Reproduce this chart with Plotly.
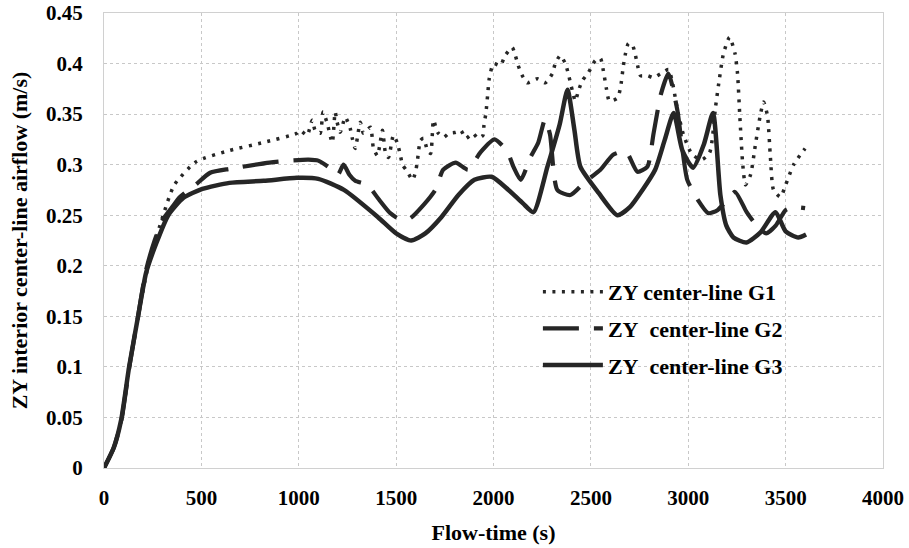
import plotly.graph_objects as go

# ---------------- data ----------------
g1_t = [0, 50, 90, 130, 175, 227, 304, 361, 474, 644, 820, 990,
        1007, 1043, 1069, 1084, 1110, 1125, 1146, 1172, 1187, 1197, 1213, 1239, 1264, 1275, 1290,
        1316, 1332, 1368, 1383, 1404, 1430, 1445, 1461, 1486, 1507, 1522, 1533, 1558, 1584, 1600,
        1610, 1625, 1641, 1661, 1677, 1692, 1713, 1744, 1770, 1806, 1832, 1858, 1894, 1920, 1946,
        1951, 1961, 1971, 1978, 2000, 2035, 2060, 2096, 2112, 2127, 2148, 2173, 2225, 2266, 2302,
        2317, 2343, 2369, 2384, 2405, 2420, 2436, 2456, 2487, 2523, 2549, 2564, 2580, 2595, 2637,
        2652, 2667, 2678, 2693, 2714, 2729, 2740, 2755, 2791, 2822, 2858, 2899, 2920, 2945, 2975,
        3020, 3070, 3110, 3140, 3160, 3181, 3212, 3240, 3253, 3265, 3280, 3294, 3320, 3345, 3371,
        3387, 3407, 3422, 3438, 3474, 3500, 3541, 3600]
g1_v = [0, 0.02, 0.048, 0.1, 0.15, 0.2, 0.25, 0.28, 0.303, 0.314, 0.322, 0.331,
        0.334, 0.329, 0.344, 0.334, 0.331, 0.352, 0.341, 0.322, 0.352, 0.342, 0.332, 0.347, 0.336, 0.326, 0.316,
        0.342, 0.331, 0.337, 0.317, 0.309, 0.334, 0.312, 0.307, 0.329, 0.321, 0.309, 0.300, 0.293, 0.285, 0.293,
        0.305, 0.324, 0.326, 0.314, 0.311, 0.344, 0.332, 0.327, 0.331, 0.332, 0.334, 0.326, 0.331, 0.326, 0.329,
        0.339, 0.351, 0.371, 0.385, 0.400, 0.398, 0.408, 0.416, 0.408, 0.398, 0.388, 0.381, 0.385, 0.381, 0.390,
        0.400, 0.408, 0.400, 0.390, 0.373, 0.363, 0.373, 0.383, 0.391, 0.403, 0.405, 0.393, 0.375, 0.363, 0.366,
        0.376, 0.398, 0.410, 0.420, 0.418, 0.408, 0.398, 0.388, 0.388, 0.386, 0.390, 0.394, 0.380, 0.354, 0.330,
        0.310, 0.305, 0.312, 0.357, 0.385, 0.410, 0.426, 0.410, 0.390, 0.347, 0.300, 0.280, 0.290, 0.320, 0.350,
        0.362, 0.348, 0.307, 0.275, 0.268, 0.280, 0.300, 0.316]

g2_t = [0, 50, 90, 130, 175, 215, 260, 300, 350, 390, 470, 545, 650, 850, 950, 1050, 1100,
        1150, 1200, 1230, 1260, 1290, 1352, 1410, 1470, 1520, 1572, 1640, 1701, 1742, 1806, 1870,
        1932, 2005, 2071, 2102, 2140, 2189, 2230, 2265, 2290, 2328, 2395, 2470, 2549, 2616, 2680,
        2739, 2790, 2822, 2860, 2898, 2944, 2970, 2995, 3050, 3103, 3150, 3190, 3240, 3300, 3350,
        3400, 3450, 3500, 3541, 3600]
g2_v = [0, 0.02, 0.048, 0.1, 0.15, 0.195, 0.225, 0.245, 0.258, 0.268, 0.28, 0.292, 0.296, 0.302, 0.304, 0.305, 0.304,
        0.298, 0.29, 0.3, 0.29, 0.284, 0.28, 0.266, 0.252, 0.246, 0.247, 0.26, 0.275, 0.295, 0.302, 0.295,
        0.312, 0.325, 0.313, 0.298, 0.285, 0.307, 0.322, 0.345, 0.33, 0.275, 0.27, 0.283, 0.295, 0.31, 0.313,
        0.293, 0.298, 0.331, 0.37, 0.39, 0.354, 0.315, 0.285, 0.265, 0.252, 0.255, 0.263, 0.273, 0.253, 0.24,
        0.232, 0.24, 0.255, 0.258, 0.257]

g3_t = [0, 50, 88, 129, 175, 216, 268, 330, 407, 505, 644, 820, 990, 1100, 1232, 1407, 1500,
        1577, 1650, 1732, 1820, 1902, 1990, 2077, 2150, 2205, 2277, 2340, 2380, 2415, 2446, 2540,
        2636, 2700, 2765, 2830, 2880, 2925, 2970, 3025, 3080, 3127, 3165, 3195, 3232, 3299, 3371,
        3448, 3500, 3565, 3605]
g3_v = [0, 0.02, 0.0475, 0.1, 0.15, 0.193, 0.222, 0.25, 0.267, 0.276, 0.282, 0.284, 0.287, 0.286, 0.275, 0.248, 0.232,
        0.225, 0.232, 0.248, 0.27, 0.285, 0.288, 0.275, 0.262, 0.253, 0.298, 0.34, 0.374, 0.335, 0.298, 0.272,
        0.25, 0.258, 0.275, 0.295, 0.325, 0.351, 0.314, 0.297, 0.32, 0.351, 0.27, 0.24, 0.228, 0.223, 0.233,
        0.253, 0.234, 0.228, 0.231]

names = ["ZY center-line G1", "ZY\u00a0 center-line G2", "ZY\u00a0 center-line G3"]

x_ticks = [0, 500, 1000, 1500, 2000, 2500, 3000, 3500, 4000]
x_tick_text = ["0", "500", "1000", "1500", "2000", "2500", "3000", "3500", "4000"]
y_ticks = [0, 0.05, 0.1, 0.15, 0.2, 0.25, 0.3, 0.35, 0.4, 0.45]
y_tick_text = ["0", "0.05", "0.1", "0.15", "0.2", "0.25", "0.3", "0.35", "0.4", "0.45"]

x_title = "Flow-time (s)"
y_title = "ZY interior center-line airflow (m/s)"

# ---------------- figure ----------------
INK = "#262626"
SERIF = "Liberation Serif, Times New Roman, serif"

fig = go.Figure()
fig.add_trace(go.Scatter(x=g1_t, y=g1_v, name=names[0], mode="lines", legendgroup="a",
                         line=dict(color=INK, width=3.5, dash="3px,6.5px", shape="spline", smoothing=0.6)))
fig.add_trace(go.Scatter(x=g2_t, y=g2_v, name=names[1], mode="lines", legendgroup="b",
                         line=dict(color=INK, width=4.2, dash="36px,15px", shape="spline", smoothing=0.6)))
fig.add_trace(go.Scatter(x=g3_t, y=g3_v, name=names[2], mode="lines", legendgroup="c",
                         line=dict(color=INK, width=4.5, shape="spline", smoothing=0.6)))

axis_common = dict(
    showgrid=True, gridcolor="#c8c8c8", gridwidth=1, griddash="dot",
    showline=True, linecolor="#d0d0d0", linewidth=1, mirror=True,
    zeroline=False, ticks="", automargin=False,
)

fig.update_xaxes(range=[0, 4000], tickvals=x_ticks, ticktext=x_tick_text,
                 ticklabelstandoff=11,
                 tickfont=dict(family=SERIF, size=21, color="#000000", weight="bold"),
                 title=dict(text=x_title, standoff=15,
                            font=dict(family=SERIF, size=22, color="#000000", weight="bold")),
                 **axis_common)
fig.update_yaxes(range=[0, 0.45], tickvals=y_ticks, ticktext=y_tick_text,
                 ticklabelstandoff=16,
                 tickfont=dict(family=SERIF, size=21, color="#000000", weight="bold"),
                 title=dict(text=y_title, standoff=12,
                            font=dict(family=SERIF, size=22, color="#000000", weight="bold")),
                 **axis_common)

fig.update_layout(
    width=909, height=548,
    margin=dict(l=104, r=26, t=13, b=80, autoexpand=False),
    paper_bgcolor="white", plot_bgcolor="white",
    showlegend=True,
    legend=dict(x=0.557, y=0.433, xanchor="left", yanchor="top",
                bgcolor="rgba(0,0,0,0)", borderwidth=0,
                font=dict(family=SERIF, size=22, color="#000000", weight="bold"),
                traceorder="grouped", tracegroupgap=5, itemwidth=60),
)

fig.write_html("out.html")
